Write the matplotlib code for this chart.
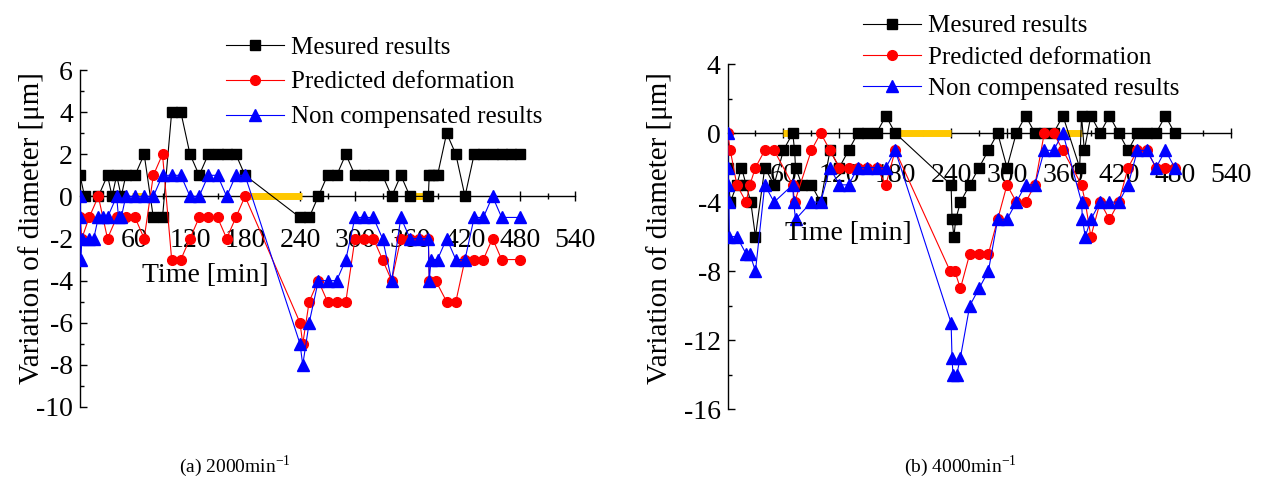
import matplotlib
matplotlib.use('Agg')
import matplotlib.pyplot as plt
from matplotlib.ticker import MultipleLocator, FixedLocator

plt.rcParams['font.family'] = ['Liberation Serif', 'DejaVu Serif']
plt.rcParams['axes.unicode_minus'] = False

# ---------------- data: (a) 2000 min^-1 ----------------
a_mes_t = [0, 5, 20, 30, 35, 40, 45, 50, 60, 70, 80, 90, 100, 110, 120, 130, 140, 150, 160, 170, 180,
           240, 250, 260, 270, 280, 290, 300, 310, 320, 330, 340, 350, 360,
           380, 381, 385, 390, 400, 410, 420, 430, 440, 450, 460, 470, 480]
a_mes_v = [1, 0, 0, 1, 0, 1, 0, 1, 1, 2, -1, -1, 4, 4, 2, 1, 2, 2, 2, 2, 1,
           -1, -1, 0, 1, 1, 2, 1, 1, 1, 1, 0, 1, 0,
           0, 1, 1, 1, 3, 2, 0, 2, 2, 2, 2, 2, 2]

a_pre_t = [0, 2, 10, 20, 30, 40, 50, 60, 70, 80, 90, 100, 110, 120, 130, 140, 150, 160, 170, 180,
           240, 243, 250, 260, 270, 280, 290, 300, 310, 320, 330, 340, 350, 360, 370, 380,
           381, 388, 400, 410, 420, 430, 440, 450, 460, 480]
a_pre_v = [-1, -2, -1, 0, -2, -1, -1, -1, -2, 1, 2, -3, -3, -2, -1, -1, -1, -2, -1, 0,
           -6, -7, -5, -4, -5, -5, -5, -2, -2, -2, -3, -4, -2, -2, -2, -2,
           -4, -4, -5, -5, -3, -3, -3, -2, -3, -3]

a_non_t = [0, 0.5, 1, 2, 10, 15, 20, 25, 30, 40, 42, 45, 50, 60, 70, 80, 90, 100, 110, 120, 130,
           140, 150, 160, 170, 180, 240, 243, 250, 260, 270, 280, 290, 300, 310, 320, 330, 340,
           350, 360, 370, 380, 381, 383, 390, 400, 410, 420, 430, 440, 450, 460, 480]
a_non_v = [0, -1, -3, -2, -2, -2, -1, -1, -1, 0, -1, -1, 0, 0, 0, 0, 1, 1, 1, 0, 0,
           1, 1, 0, 1, 1, -7, -8, -6, -4, -4, -4, -3, -1, -1, -1, -2, -4,
           -1, -2, -2, -2, -4, -3, -3, -2, -3, -3, -1, -1, 0, -1, -1]

a_stop = [(57, 70), (183, 242), (362, 384)]

# ---------------- data: (b) 4000 min^-1 ----------------
b_mes_t = [0, 3, 10, 15, 20, 25, 30, 40, 50, 60, 70, 72, 73, 80, 90, 100, 110, 120, 130, 140,
           150, 160, 170, 180, 240, 241, 243, 245, 250, 260, 270, 280, 290, 300,
           310, 320, 330, 340, 350, 360, 378, 380, 383, 390, 400, 410, 420, 430, 440, 450, 460, 470, 480]
b_mes_v = [-2, -4, -3, -2, -3, -4, -6, -2, -3, -1, 0, -1, -2, -3, -3, -4, -1, -2, -1, 0,
           0, 0, 1, 0, -3, -5, -6, -5, -4, -3, -2, -1, 0, -2,
           0, 1, 0, 0, 0, 1, -2, 1, -1, 1, 0, 1, 0, -1, 0, 0, 0, 1, 0]

b_pre_t = [0, 3, 10, 20, 24, 30, 40, 50, 70, 72, 90, 100, 110, 120, 130, 140, 150, 160, 170, 180,
           239, 244, 250, 260, 270, 280, 290, 300, 310, 320, 330, 340, 350, 360, 380, 384, 390,
           400, 410, 420, 430, 440, 450, 460, 470, 480]
b_pre_v = [0, -1, -3, -4, -3, -2, -1, -1, -3, -4, -1, 0, -1, -2, -2, -2, -2, -2, -3, -1,
           -8, -8, -9, -7, -7, -7, -5, -3, -4, -4, -3, 0, 0, -1, -3, -4, -6,
           -4, -5, -4, -2, -1, -1, -2, -2, -2]

b_non_t = [0, 0.5, 1, 1.5, 2, 10, 20, 24, 30, 40, 50, 70, 71, 73, 90, 100, 110, 120, 130, 140,
           150, 160, 170, 180, 240, 241, 242, 246, 250, 260, 270, 280, 290, 300, 310, 320, 330,
           340, 350, 360, 380, 381, 384, 390, 400, 410, 420, 430, 440, 450, 460, 470, 480]
b_non_v = [0, -2, -3, -4, -6, -6, -7, -7, -8, -3, -4, -3, -4, -5, -4, -4, -2, -3, -3, -2,
           -2, -2, -2, -1, -11, -13, -14, -14, -13, -10, -9, -8, -5, -5, -4, -3, -3,
           -1, -1, 0, -4, -5, -6, -5, -4, -4, -4, -3, -1, -1, -2, -1, -2]

b_stop = [(60, 74), (182, 240), (360, 381)]

labels = ['Mesured results', 'Predicted deformation', 'Non compensated results']
x_ticks = [60, 120, 180, 240, 300, 360, 420, 480, 540]
x_minor = [30, 90, 150, 210, 270, 330, 390, 450, 510]

W, H = 1266, 482
fig = plt.figure(figsize=(W / 100, H / 100), dpi=100)


def px_axes(x0, y0, x1, y1):
    return fig.add_axes([x0 / W, 1 - y1 / H, (x1 - x0) / W, (y1 - y0) / H])


axA = px_axes(80, 70, 575, 407)
axB = px_axes(727.5, 64, 1230.6, 409.3)


def style(ax, ylim, ymajor, yminor, pad):
    ax.set_xlim(0, 540)
    ax.set_ylim(*ylim)
    ax.patch.set_alpha(0)
    for s in ['top', 'right']:
        ax.spines[s].set_visible(False)
    ax.spines['bottom'].set_position(('data', 0))
    for s in ['bottom', 'left']:
        ax.spines[s].set_linewidth(1.0)
    ax.xaxis.set_major_locator(FixedLocator(x_ticks))
    ax.xaxis.set_minor_locator(FixedLocator(x_minor))
    ax.yaxis.set_major_locator(MultipleLocator(ymajor))
    ax.yaxis.set_minor_locator(MultipleLocator(yminor))
    ax.tick_params(axis='x', which='major', direction='inout', length=7, width=1,
                   labelsize=20, pad=pad)
    ax.tick_params(axis='x', which='minor', direction='inout', length=5, width=1)
    ax.tick_params(axis='y', which='major', direction='in', length=5, width=1,
                   labelsize=20, pad=5)
    ax.tick_params(axis='y', which='minor', direction='in', length=3, width=1)


def draw(ax, mt, mv, pt, pv, nt, nv, stops):
    for a, b in stops:
        ax.plot([a, b], [0, 0], color='#FFC800', lw=5, solid_capstyle='butt', zorder=2.8)
    ax.plot(mt, mv, color='black', marker='s', ms=6.5, lw=0.8, label=labels[0], zorder=3)
    ax.plot(pt, pv, color='red', marker='o', ms=7, lw=0.8, label=labels[1], zorder=4)
    ax.plot(nt, nv, color='blue', marker='^', ms=8, lw=0.8, label=labels[2], zorder=5)


draw(axA, a_mes_t, a_mes_v, a_pre_t, a_pre_v, a_non_t, a_non_v, a_stop)
draw(axB, b_mes_t, b_mes_v, b_pre_t, b_pre_v, b_non_t, b_non_v, b_stop)
style(axA, (-10, 6), 2, 1, 19)
style(axB, (-16, 4), 4, 2, 18)

axA.legend(loc='upper left', bbox_to_anchor=(226 / W, 1 - 36 / H), bbox_transform=fig.transFigure,
           frameon=False, fontsize=18, handlelength=2.3, handletextpad=0.3,
           labelspacing=0.5, borderpad=0, borderaxespad=0)
axB.legend(loc='upper left', bbox_to_anchor=(863 / W, 1 - 15 / H), bbox_transform=fig.transFigure,
           frameon=False, fontsize=18, handlelength=2.3, handletextpad=0.3,
           labelspacing=0.35, borderpad=0, borderaxespad=0)

fig.text(205 / W, 1 - 275 / H, 'Time [min]', ha='center', va='center', fontsize=20)
fig.text(848 / W, 1 - 233 / H, 'Time [min]', ha='center', va='center', fontsize=20)
fig.text(32 / W, 1 - 228 / H, 'Variation of diameter [μm]', rotation=90,
         ha='center', va='center', fontsize=21)
fig.text(660 / W, 1 - 228 / H, 'Variation of diameter [μm]', rotation=90,
         ha='center', va='center', fontsize=21)
fig.text(235 / W, 1 - 466 / H, '(a) 2000min$^{\\mathregular{-1}}$', ha='center', va='center',
         fontsize=14)
fig.text(960 / W, 1 - 466 / H, '(b) 4000min$^{\\mathregular{-1}}$', ha='center', va='center',
         fontsize=14)

fig.savefig('out.png', dpi=100)
